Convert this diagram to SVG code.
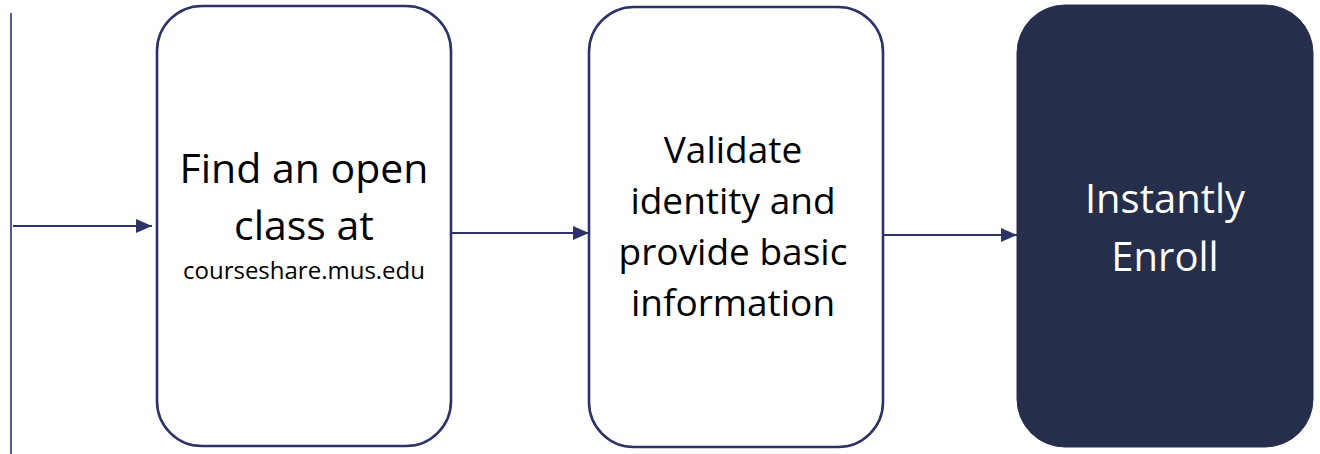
<svg xmlns="http://www.w3.org/2000/svg" width="1320" height="454" viewBox="0 0 1320 454">
<style>
.box{fill:#ffffff;stroke:#2c3366;stroke-width:2.6}
.dark{fill:#252e4a;stroke:#2a3158;stroke-width:1}
.conn{stroke:#2c3366;stroke-width:2.2;fill:none}
.t{font-family:"Open Sans","Noto Sans","Liberation Sans",sans-serif;text-anchor:middle;fill:#000000}
.w{fill:#ffffff}
</style>
<defs>
<marker id="arr" viewBox="0 0 16 14" refX="16" refY="7" markerWidth="16" markerHeight="14" markerUnits="userSpaceOnUse" orient="auto">
<path d="M0,0 L16,7 L0,14 Z" fill="#2c3366"/>
</marker>
</defs>
<line x1="11" y1="13" x2="11" y2="454" stroke="#3f4a8c" stroke-width="1.8"/>
<g id="connectors">
<line class="conn" x1="13" y1="226" x2="152" y2="226" marker-end="url(#arr)"/>
<line class="conn" x1="451" y1="233" x2="589" y2="233" marker-end="url(#arr)"/>
<line class="conn" x1="883" y1="235" x2="1017" y2="235" marker-end="url(#arr)"/>
</g>
<g id="node-find">
<rect class="box" x="157" y="6" width="294" height="440" rx="45" ry="45"/>
<text class="t" x="304" y="183" font-size="41">Find an open</text>
<text class="t" x="304" y="240" font-size="41">class at</text>
<text class="t" x="304" y="279" font-size="24">courseshare.mus.edu</text>
</g>
<g id="node-validate">
<rect class="box" x="589" y="7" width="294" height="440" rx="45" ry="45"/>
<text class="t" x="733" y="163" font-size="37">Validate</text>
<text class="t" x="733" y="214" font-size="37">identity and</text>
<text class="t" x="733" y="265" font-size="37">provide basic</text>
<text class="t" x="733" y="316" font-size="37">information</text>
</g>
<g id="node-enroll">
<rect class="dark" x="1017" y="5" width="296" height="442" rx="48" ry="48"/>
<text class="t w" x="1165" y="213" font-size="40">Instantly</text>
<text class="t w" x="1165" y="271" font-size="40">Enroll</text>
</g>
</svg>
